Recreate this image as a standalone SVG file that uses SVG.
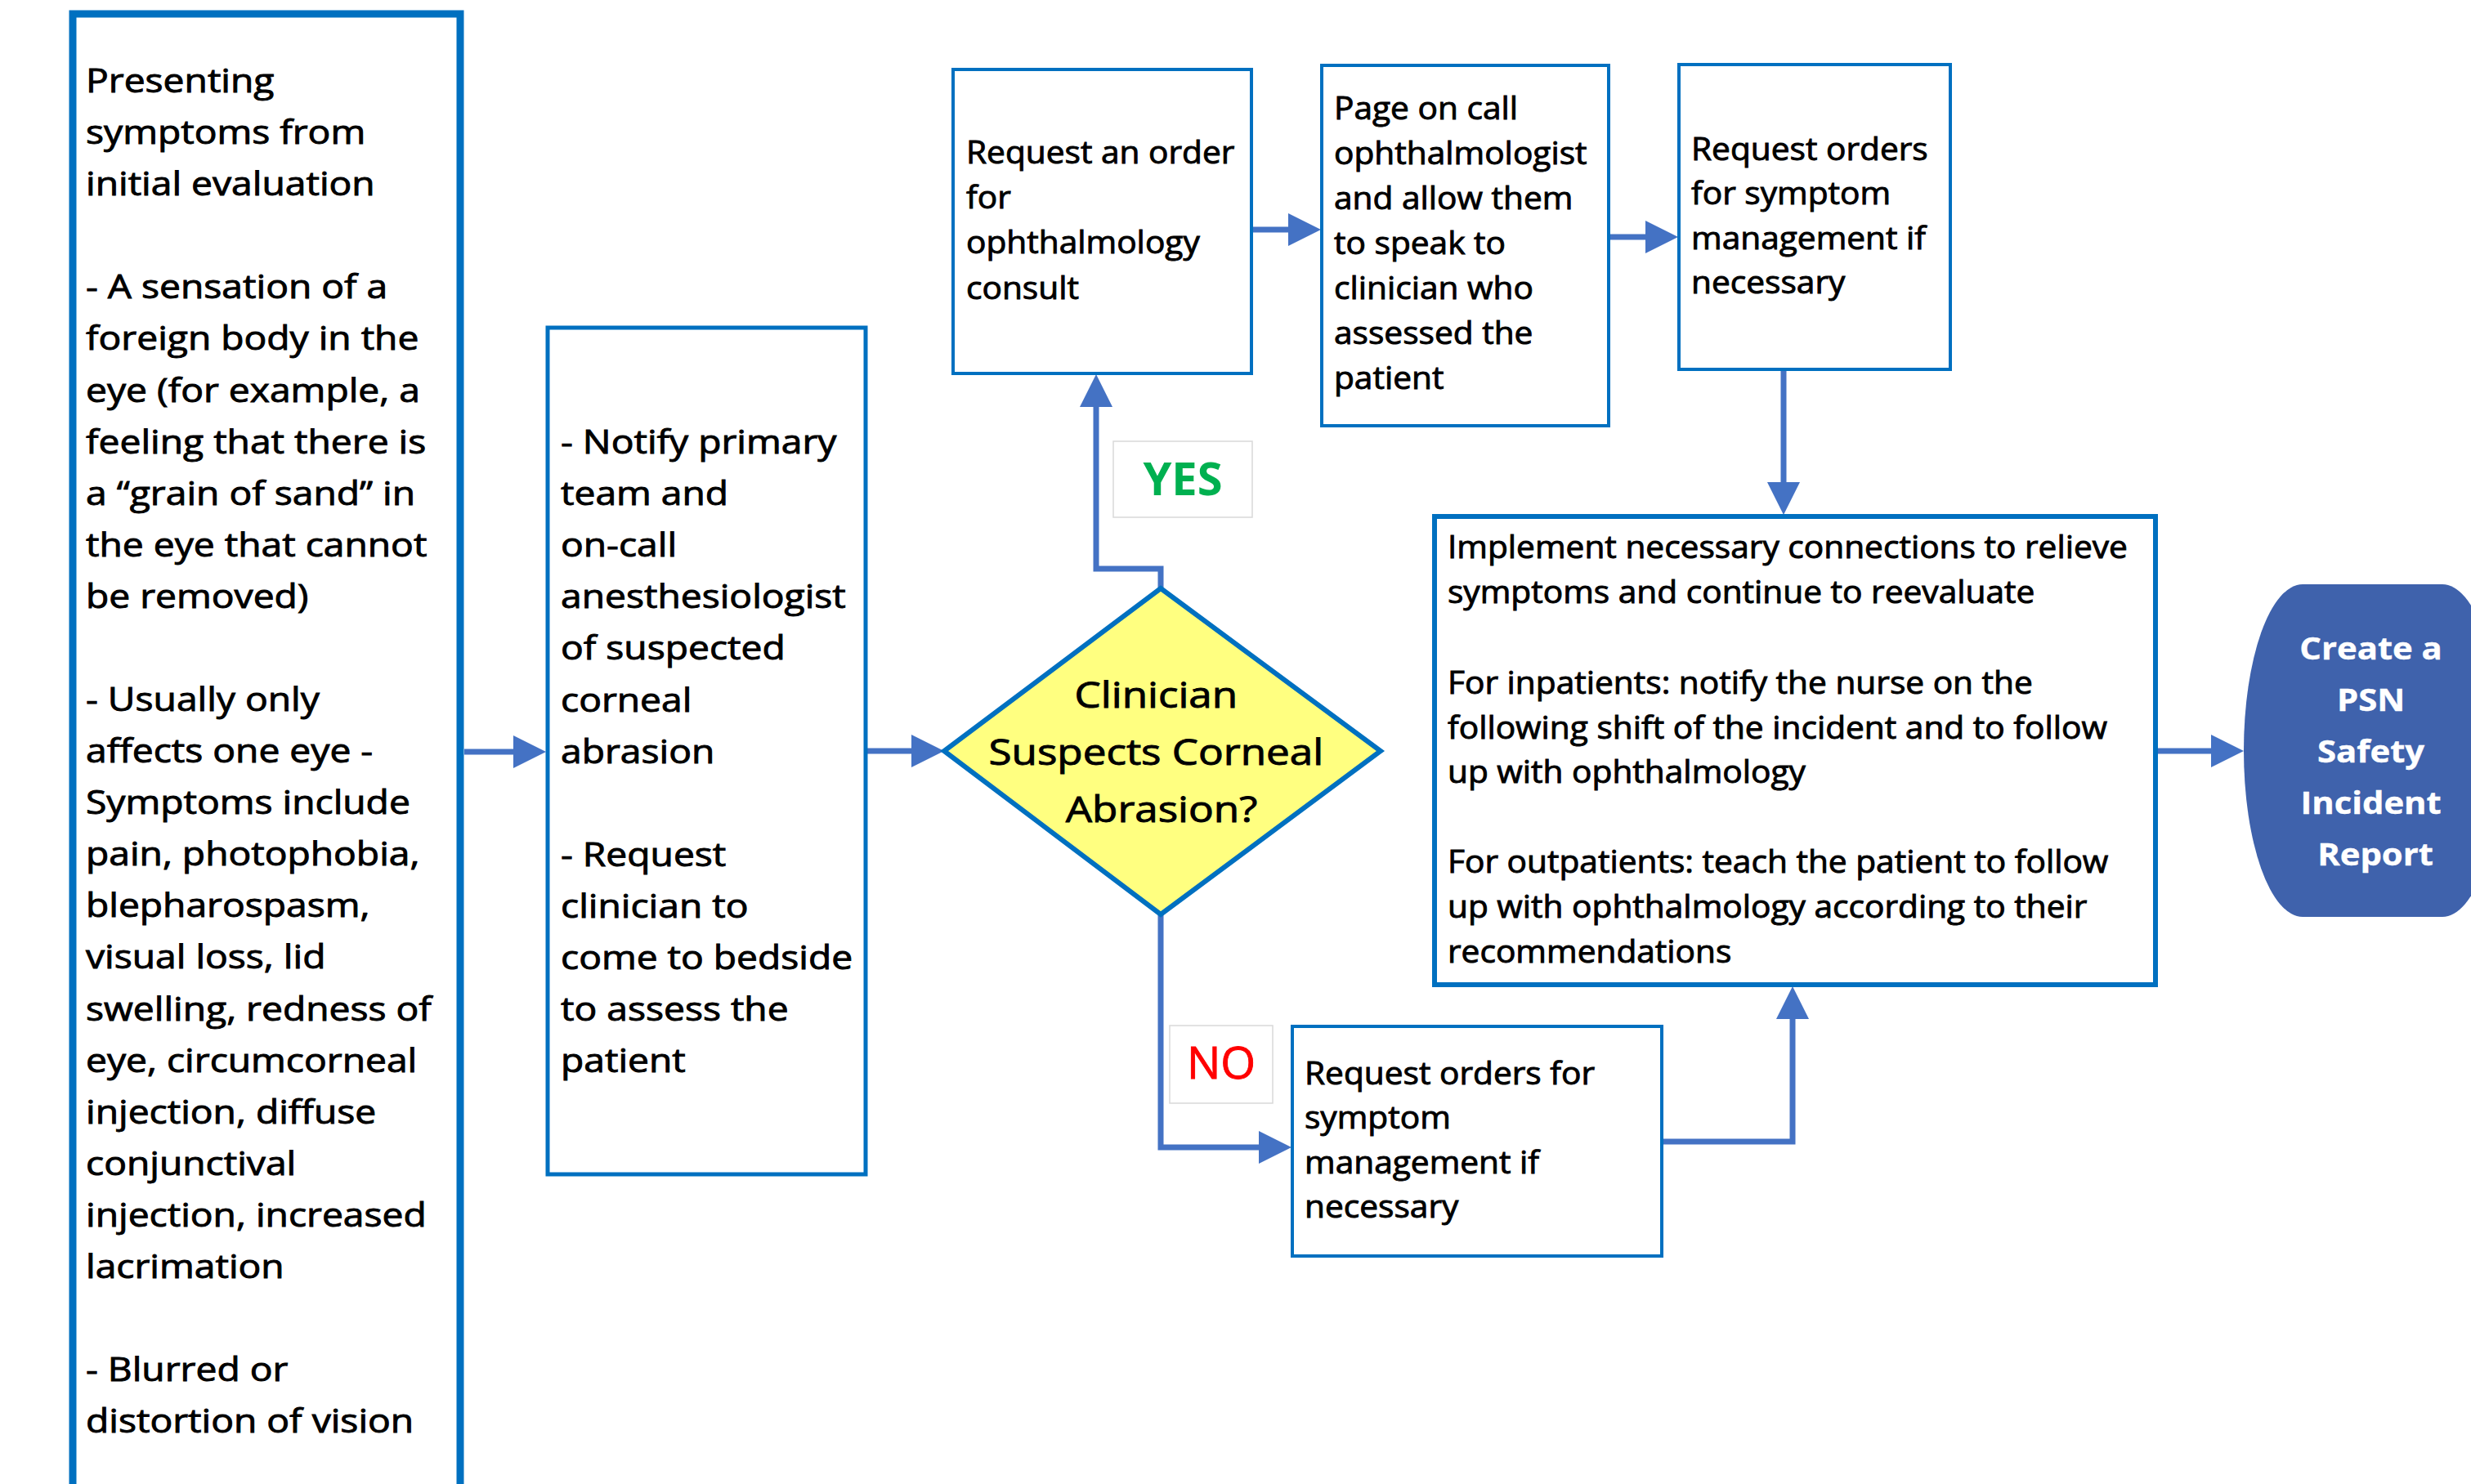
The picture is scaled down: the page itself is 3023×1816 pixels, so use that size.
<svg xmlns="http://www.w3.org/2000/svg" width="3023" height="1816" viewBox="0 0 3023 1816">
<style>
.box{fill:#fff;stroke:#0070C0}
.txt{font-family:"Open Sans","Liberation Sans",sans-serif;fill:#000;stroke:#000;stroke-width:0.9px}
.big{font-size:40px}
.mid{font-size:38px}
.dia{font-size:43px}
.term{font-size:38px;font-weight:700;fill:#fff;stroke:#fff;stroke-width:0.4px}
.conn{fill:none;stroke:#4472C4;stroke-width:7;marker-end:url(#ah)}
.lbl{fill:#fff;stroke:#D9D9D9;stroke-width:1.5}
</style>
<defs>
<marker id="ah" markerUnits="userSpaceOnUse" markerWidth="40" markerHeight="40" viewBox="0 0 40 40" refX="10" refY="20" orient="auto">
<path d="M0,0 L40,20 L0,40 Z" fill="#4472C4"/>
</marker>
</defs>
<rect width="3023" height="1816" fill="#fff"/>

<g id="connectors">
<path class="conn" d="M568 920 H638"/>
<path class="conn" d="M1059 919 H1125"/>
<path class="conn" d="M1420 722 V696 H1341 V488"/>
<path class="conn" d="M1531 281 H1586"/>
<path class="conn" d="M1968 290 H2023"/>
<path class="conn" d="M2182 452 V600"/>
<path class="conn" d="M1420 1117 V1404 H1550"/>
<path class="conn" d="M2033 1397 H2193 V1237"/>
<path class="conn" d="M2638 919 H2715"/>
</g>

<g id="node-symptoms">
<rect class="box" x="89" y="17" width="474" height="1830" stroke-width="9"/>
<text class="txt big" transform="translate(105 0) scale(1.155 1)">
<tspan x="0" y="113">Presenting</tspan>
<tspan x="0" y="176">symptoms from</tspan>
<tspan x="0" y="239">initial evaluation</tspan>
<tspan x="0" y="365">- A sensation of a</tspan>
<tspan x="0" y="428">foreign body in the</tspan>
<tspan x="0" y="492">eye (for example, a</tspan>
<tspan x="0" y="555">feeling that there is</tspan>
<tspan x="0" y="618">a “grain of sand” in</tspan>
<tspan x="0" y="681">the eye that cannot</tspan>
<tspan x="0" y="744">be removed)</tspan>
<tspan x="0" y="870">- Usually only</tspan>
<tspan x="0" y="933">affects one eye -</tspan>
<tspan x="0" y="996">Symptoms include</tspan>
<tspan x="0" y="1059">pain, photophobia,</tspan>
<tspan x="0" y="1122">blepharospasm,</tspan>
<tspan x="0" y="1185">visual loss, lid</tspan>
<tspan x="0" y="1249">swelling, redness of</tspan>
<tspan x="0" y="1312">eye, circumcorneal</tspan>
<tspan x="0" y="1375">injection, diffuse</tspan>
<tspan x="0" y="1438">conjunctival</tspan>
<tspan x="0" y="1501">injection, increased</tspan>
<tspan x="0" y="1564">lacrimation</tspan>
<tspan x="0" y="1690">- Blurred or</tspan>
<tspan x="0" y="1753">distortion of vision</tspan>
</text>
</g>

<g id="node-notify">
<rect class="box" x="670" y="401" width="389" height="1036" stroke-width="5"/>
<text class="txt big" transform="translate(686 0) scale(1.155 1)">
<tspan x="0" y="555">- Notify primary</tspan>
<tspan x="0" y="618">team and</tspan>
<tspan x="0" y="681">on-call</tspan>
<tspan x="0" y="744">anesthesiologist</tspan>
<tspan x="0" y="807">of suspected</tspan>
<tspan x="0" y="871">corneal</tspan>
<tspan x="0" y="934">abrasion</tspan>
<tspan x="0" y="1060">- Request</tspan>
<tspan x="0" y="1123">clinician to</tspan>
<tspan x="0" y="1186">come to bedside</tspan>
<tspan x="0" y="1249">to assess the</tspan>
<tspan x="0" y="1312">patient</tspan>
</text>
</g>

<g id="node-decision">
<polygon points="1420,720 1689,919 1420,1119 1155,919" fill="#FFFF80" stroke="#0070C0" stroke-width="6"/>
<text class="txt dia" text-anchor="middle" transform="translate(1421 0) scale(1.19 1)">
<tspan x="0" y="866">Clinician</tspan>
<tspan x="0" y="936">Suspects Corneal</tspan>
<tspan x="0" y="1006">Abrasion?</tspan>
</text>
</g>

<g id="label-yes">
<rect class="lbl" x="1362" y="540" width="170" height="93"/>
<text x="1447" y="606" text-anchor="middle" font-family="Open Sans, Liberation Sans, sans-serif" font-size="56" font-weight="700" fill="#00B050">YES</text>
</g>

<g id="label-no">
<rect class="lbl" x="1431" y="1255" width="126" height="95"/>
<text x="1494" y="1320" text-anchor="middle" font-family="Open Sans, Liberation Sans, sans-serif" font-size="55" fill="#FF0000" stroke="#FF0000" stroke-width="0.9">NO</text>
</g>

<g id="node-consult">
<rect class="box" x="1166" y="85" width="365" height="372" stroke-width="4"/>
<text class="txt mid" transform="translate(1182 0) scale(1.07 1)">
<tspan x="0" y="200">Request an order</tspan>
<tspan x="0" y="255">for</tspan>
<tspan x="0" y="310">ophthalmology</tspan>
<tspan x="0" y="366">consult</tspan>
</text>
</g>

<g id="node-page">
<rect class="box" x="1617" y="80" width="351" height="441" stroke-width="4"/>
<text class="txt mid" transform="translate(1632 0) scale(1.07 1)">
<tspan x="0" y="146">Page on call</tspan>
<tspan x="0" y="201">ophthalmologist</tspan>
<tspan x="0" y="256">and allow them</tspan>
<tspan x="0" y="311">to speak to</tspan>
<tspan x="0" y="366">clinician who</tspan>
<tspan x="0" y="421">assessed the</tspan>
<tspan x="0" y="476">patient</tspan>
</text>
</g>

<g id="node-orders-top">
<rect class="box" x="2054" y="79" width="332" height="373" stroke-width="4"/>
<text class="txt mid" transform="translate(2069 0) scale(1.07 1)">
<tspan x="0" y="196">Request orders</tspan>
<tspan x="0" y="250">for symptom</tspan>
<tspan x="0" y="305">management if</tspan>
<tspan x="0" y="359">necessary</tspan>
</text>
</g>

<g id="node-implement">
<rect class="box" x="1755" y="632" width="882" height="573" stroke-width="6"/>
<text class="txt mid" transform="translate(1771 0) scale(1.07 1)">
<tspan x="0" y="683">Implement necessary connections to relieve</tspan>
<tspan x="0" y="738">symptoms and continue to reevaluate</tspan>
<tspan x="0" y="849">For inpatients: notify the nurse on the</tspan>
<tspan x="0" y="904">following shift of the incident and to follow</tspan>
<tspan x="0" y="958">up with ophthalmology</tspan>
<tspan x="0" y="1068">For outpatients: teach the patient to follow</tspan>
<tspan x="0" y="1123">up with ophthalmology according to their</tspan>
<tspan x="0" y="1178">recommendations</tspan>
</text>
</g>

<g id="node-orders-bottom">
<rect class="box" x="1581" y="1256" width="452" height="281" stroke-width="4"/>
<text class="txt mid" transform="translate(1596 0) scale(1.07 1)">
<tspan x="0" y="1327">Request orders for</tspan>
<tspan x="0" y="1381">symptom</tspan>
<tspan x="0" y="1436">management if</tspan>
<tspan x="0" y="1490">necessary</tspan>
</text>
</g>

<g id="node-report">
<rect x="2745" y="715" width="315" height="407" rx="72" ry="203.5" fill="#3F62AC"/>
<text class="txt term" text-anchor="middle" transform="translate(2906 0) scale(1.1 1)">
<tspan x="0" y="807">Create a</tspan>
<tspan x="0" y="870">PSN</tspan>
<tspan x="0" y="933">Safety</tspan>
<tspan x="0" y="996">Incident</tspan>
<tspan x="0" y="1059">Report</tspan>
</text>
</g>
</svg>
